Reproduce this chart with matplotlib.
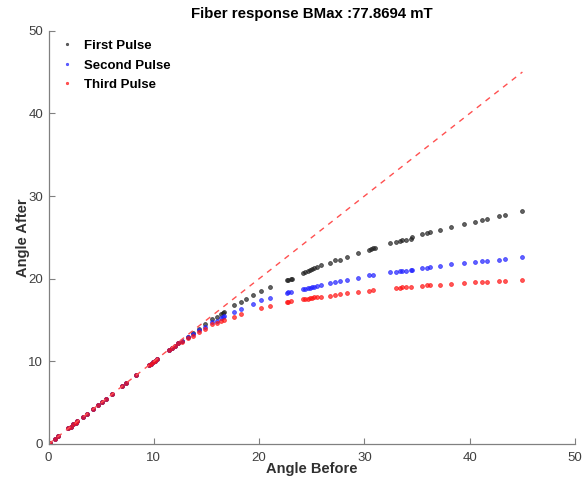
import numpy as np
import matplotlib
matplotlib.use("Agg")
import matplotlib.pyplot as plt

plt.rcParams["font.family"] = ["Liberation Sans", "DejaVu Sans"]

nan = np.nan

# Angle before (shared by the three pulses)
angulo_antes = [
    0, 0.1, 0.6, 0.93, 1.88, 2.11, 2.36, 2.58, 2.74, 3.3, 3.68, 4.2, 4.67,
    5.1, 5.46, 6.0, 7.0, 7.4, 8.34, 9.5, 9.7, 9.96, 10.1, 10.3, 11.44, 11.7,
    12.0, 12.3, 12.7, 13.2, 13.7, 14.3, 14.86, 15.56, 15.97, 16.38, 16.54,
    16.67, 17.65, 18.28, 18.79, 19.42, 20.15, 21.0, 22.6, 22.7, 23.0, 23.1,
    24.2, 24.4, 24.6, 24.8, 25.0, 25.2, 25.5, 25.9, 26.7, 27.2, 27.7, 28.3,
    29.4, 30.4, 30.6, 30.8, 31.0, 32.4, 33.0, 33.4, 33.6, 33.9, 34.4, 34.5,
    35.5, 35.9, 36.2, 37.2, 38.2, 39.5, 40.5, 41.2, 41.6, 42.8, 43.3, 45.0,
]

lineal = [
    0, 0.1, 0.6, 0.93, 1.88, 2.11, 2.36, 2.58, 2.74, 3.3, 3.68, 4.2, 4.67,
    5.1, 5.46, 6.0, 7.0, 7.4, 8.34, 9.5, 9.7, 9.96, 10.1, 10.3, 11.4, 11.65,
    11.9, 12.2,
]

primer_pulso = lineal + [
    12.5, 13.0, 13.45, 13.95, 14.48, 15.08, 15.40, 15.76, 15.88, 16.0,
    16.78, 17.18, 17.50, 17.99, 18.45, 19.05, 19.80, 19.88, 19.96, 20.0,
    20.73, 20.85, 20.95, 21.05, 21.15, 21.25, 21.4, 21.62, 21.93, 22.22,
    22.26, 22.62, 23.11, 23.47, 23.59, 23.67, 23.75, 24.3, 24.45, 24.6,
    24.7, 24.72, 24.8, 25.0, 25.4, 25.5, 25.6, 25.9, 26.2, 26.6, 26.9,
    27.1, 27.2, 27.6, 27.7, 28.2,
]

segundo_pulso = lineal + [
    12.45, 12.9, 13.3, 13.79, 14.19, 14.72, 14.88, 15.28, 15.36, 15.45,
    16.0, 16.37, nan, 16.97, 17.4, 17.62, 18.27, 18.35, 18.43, nan,
    18.75, 18.8, 18.85, 18.9, 18.95, 19.0, 19.1, 19.27, 19.44, 19.56,
    19.72, 19.84, 20.12, 20.41, nan, 20.45, nan, 20.77, 20.85, 20.93,
    20.97, 20.97, 21.09, 21.09, 21.25, 21.33, 21.38, 21.57, 21.74, 21.93,
    22.05, 22.14, 22.18, 22.30, 22.34, 22.62,
]

tercer_pulso = lineal + [
    12.4, 12.8, 13.1, 13.51, 13.88, 14.48, 14.60, 14.88, nan, 15.0,
    15.40, 15.76, nan, nan, 16.45, 16.70, 17.18, 17.22, 17.30, nan,
    17.50, 17.55, 17.6, 17.65, 17.7, 17.75, 17.78, 17.82, 17.94, 18.06,
    18.15, 18.23, 18.39, 18.55, nan, 18.59, nan, nan, 18.87, 18.91,
    18.96, 18.96, 18.99, nan, 19.15, 19.20, 19.20, 19.27, 19.36, 19.48,
    19.60, 19.63, 19.63, 19.76, 19.76, 19.88,
]

referencia = [0, 45]

titulo = "Fiber response BMax :77.8694 mT"
etiquetas = ["First Pulse", "Second Pulse", "Third Pulse"]
colores = ["#202020", "#2020ff", "#ff1010"]

fig = plt.figure(figsize=(5.85, 4.8), dpi=100)
ax = fig.add_axes([0.083, 0.075, 0.9, 0.861])

series = [primer_pulso, segundo_pulso, tercer_pulso]
for ys, etiqueta, color in zip(series, etiquetas, colores):
    ax.plot(angulo_antes, ys, linestyle="none", marker="o", markersize=2.8,
            markerfacecolor=color, markeredgecolor=color, alpha=0.7,
            markeredgewidth=0.6, label=etiqueta)

ax.plot(referencia, referencia, linestyle=(0, (4, 4)), color="#ff5050",
        linewidth=1.0)

ax.set_xlim(0, 50)
ax.set_ylim(0, 50)
ax.set_xticks([0, 10, 20, 30, 40, 50])
ax.set_yticks([0, 10, 20, 30, 40, 50])

for lado in ["top", "right"]:
    ax.spines[lado].set_visible(False)
for lado in ["left", "bottom"]:
    ax.spines[lado].set_color("#808080")
    ax.spines[lado].set_linewidth(0.9)

ax.tick_params(direction="in", length=4, width=0.8, color="#808080",
               labelcolor="#404040", labelsize=9.5)
ax.tick_params(axis="x", pad=6)
ax.tick_params(axis="y", pad=4)

ax.set_title(titulo, fontsize=10.8, fontweight="bold", pad=9)
ax.set_xlabel("Angle Before", fontsize=10.5, fontweight="bold",
              color="#303030", labelpad=-2)
ax.set_ylabel("Angle After", fontsize=10.5, fontweight="bold",
              color="#303030", labelpad=-1)

leg = ax.legend(loc="upper left", bbox_to_anchor=(0.005, 0.997),
                frameon=False, fontsize=9.5, markerscale=0.6,
                handlelength=1.2, handletextpad=0.7, labelspacing=0.55,
                borderaxespad=0.2)
for texto in leg.get_texts():
    texto.set_fontweight("bold")

fig.savefig("out.png", dpi=100)
